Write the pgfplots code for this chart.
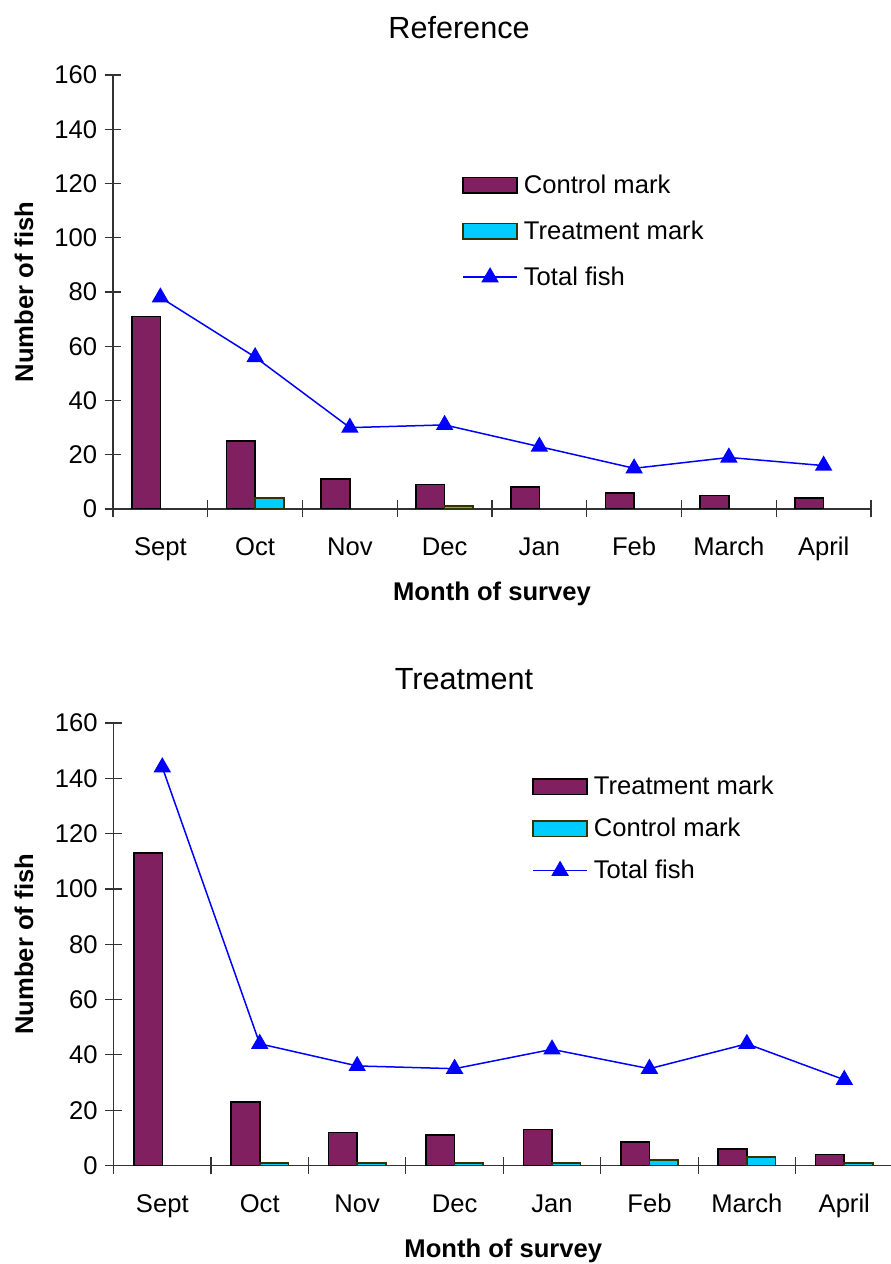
\documentclass[border=0pt]{standalone}
\usepackage{fontspec}
\setmainfont{Liberation Sans}
\usepackage{pgfplots}
\pgfplotsset{compat=1.18}
\definecolor{plum}{HTML}{802060}
\definecolor{skyc}{HTML}{00CCFF}
\definecolor{olivedark}{HTML}{333300}

\newcommand{\lblfont}{\fontsize{12.8}{15}\selectfont}

\pgfplotsset{
  barlegend/.style={legend image code/.code={\draw[##1] (0pt,-3.9pt) rectangle (27pt,3.9pt);}},
  linelegend/.style={legend image code/.code={\draw[##1, mark repeat=2, mark phase=2] plot coordinates {(0pt,0pt) (13.5pt,0pt) (27pt,0pt)};}},
  fishchart/.style={
    scale only axis,
    anchor=south west,
    axis x line*=bottom, axis y line*=left,
    axis line style={black!80, line width=0.6pt},
    xmin=-0.5, xmax=7.5, ymin=0, ymax=160,
    ytick={0,20,...,160},
    xtick={0,...,7},
    xticklabels={Sept,Oct,Nov,Dec,Jan,Feb,March,April},
    minor xtick={-0.5,0.5,...,7.5},
    major x tick style={draw=none},
    tick style={black!80, line width=0.6pt},
    tick align=center,
    major tick length=8.5pt, minor tick length=8.5pt,
    ticklabel style={font=\lblfont},
    /pgf/number format/assume math mode=true,
    yticklabel style={anchor=east, inner sep=0pt, xshift=-3.5pt},
    xticklabel style={anchor=base, inner sep=0pt, yshift=-19pt},
    xlabel={Month of survey},
    ylabel={Number of fish},
    xlabel style={at={(axis description cs:0.5,0)}, anchor=base, yshift=-46pt, font=\bfseries\lblfont},
    every axis title shift=0pt,
    title style={anchor=base, font=\fontsize{15.3}{18}\selectfont},
    legend cell align=left,
    legend style={anchor=north west, draw=none, fill=none, inner sep=0pt, outer sep=0pt,
      column sep=3pt, row sep=0pt,
      nodes={inner sep=0pt, anchor=west, font=\lblfont}},
  },
  controlbar/.style={ybar, bar width=14.3pt, bar shift=-7.15pt, fill=plum, draw=black, line width=0.8pt, barlegend},
  treatbar/.style={ybar, bar width=14.3pt, bar shift=7.15pt, fill=skyc, draw=olivedark, line width=0.8pt, barlegend},
  totalline/.style={blue, line width=0.75pt, mark=triangle*, mark size=4.3pt, mark options={solid, fill=blue}, linelegend},
}

\begin{document}
\begin{tikzpicture}
\path[use as bounding box] (0pt,0pt) rectangle (445pt,632pt);

% Reference site
\begin{axis}[fishchart,
    at={(56.5pt,377.5pt)}, width=379pt, height=217pt,
    title={Reference},
    title style={at={(axis description cs:0.4565,1)}, yshift=18.25pt},
    ylabel style={at={(axis description cs:-0.1055,0.5)}, anchor=base, font=\bfseries\lblfont},
    legend style={at={(axis description cs:0.4608,0.7990)}, nodes={minimum height=23pt}},
]
\addplot[controlbar] coordinates {
    (0,71) (1,25) (2,11) (3,9) (4,8) (5,6) (6,5) (7,4)
};
\addplot[treatbar] coordinates {
    (1,4) (3,1)
};
\addplot[totalline] coordinates {
    (0,78) (1,56) (2,30) (3,31) (4,23) (5,15) (6,19) (7,16)
};
\legend{Control mark, Treatment mark, Total fish}
\end{axis}

% Treatment site
\begin{axis}[fishchart,
    at={(56.8pt,49.25pt)}, width=389.7pt, height=221.25pt,
    title={Treatment},
    title style={at={(axis description cs:0.4496,1)}, yshift=16.85pt},
    ylabel style={at={(axis description cs:-0.1034,0.5)}, anchor=base, font=\bfseries\lblfont},
    legend style={at={(axis description cs:0.5372,0.9040)}, nodes={minimum height=21.05pt}},
]
\addplot[controlbar] coordinates {
    (0,113) (1,23) (2,12) (3,11) (4,13) (5,8.5) (6,6) (7,4)
};
\addplot[treatbar] coordinates {
    (1,1) (2,1) (3,1) (4,1) (5,2) (6,3) (7,1)
};
\addplot[totalline] coordinates {
    (0,144) (1,44) (2,36) (3,35) (4,42) (5,35) (6,44) (7,31)
};
\legend{Treatment mark, Control mark, Total fish}
\end{axis}
\end{tikzpicture}
\end{document}
